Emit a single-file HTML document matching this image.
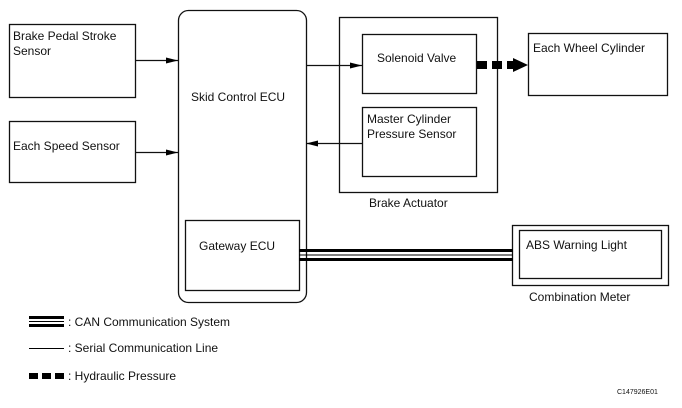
<!DOCTYPE html>
<html><head><style>
body{margin:0;background:#fff;}
svg text{font-family:"Liberation Sans",sans-serif;font-size:12px;fill:#111;}
</style></head><body>
<svg width="682" height="403" viewBox="0 0 682 403" xmlns="http://www.w3.org/2000/svg">
<defs><marker id="a" markerWidth="12" markerHeight="8" refX="12" refY="4" orient="auto" markerUnits="userSpaceOnUse"><path d="M0,1 L12,4 L0,7 Z" fill="#000"/></marker></defs>
<g fill="none" stroke="#111" stroke-width="1.3">
<rect x="9.5" y="24.5" width="126" height="73"/>
<rect x="9.5" y="121.5" width="126" height="61"/>
<rect x="178.5" y="10.5" width="128" height="292" rx="10"/>
<rect x="185.5" y="220.5" width="114" height="70"/>
<rect x="339.5" y="17.5" width="158" height="175"/>
<rect x="362.5" y="34.5" width="114" height="59"/>
<rect x="362.5" y="107.5" width="114" height="69"/>
<rect x="528.5" y="33.5" width="139" height="62"/>
<rect x="512.5" y="225.5" width="156" height="60"/>
<rect x="519.5" y="230.5" width="142" height="48"/>
<line x1="135" y1="60.5" x2="178" y2="60.5" marker-end="url(#a)"/>
<line x1="135" y1="152.5" x2="178" y2="152.5" marker-end="url(#a)"/>
<line x1="306" y1="65.5" x2="362" y2="65.5" marker-end="url(#a)"/>
<line x1="362" y1="143.5" x2="306" y2="143.5" marker-end="url(#a)"/>
</g>
<g fill="#000">
<rect x="477" y="61" width="10" height="8"/><rect x="492" y="61" width="10" height="8"/><rect x="507" y="61" width="8" height="8"/>
<path d="M513,58 L528,65 L513,72 Z"/>
<rect x="299" y="249" width="214" height="3"/>
<rect x="299" y="254.5" width="214" height="1"/>
<rect x="299" y="258" width="214" height="3"/>
<rect x="29" y="316" width="35" height="3"/><rect x="29" y="321" width="35" height="1"/><rect x="29" y="324" width="35" height="3"/>
<rect x="29" y="348" width="35" height="1"/>
<rect x="29" y="373" width="9" height="6"/><rect x="42" y="373" width="9" height="6"/><rect x="55" y="373" width="9" height="6"/>
</g>
<text x="13" y="40">Brake Pedal Stroke</text>
<text x="13" y="55">Sensor</text>
<text x="13" y="150">Each Speed Sensor</text>
<text x="191" y="101">Skid Control ECU</text>
<text x="199" y="250">Gateway ECU</text>
<text x="377" y="62">Solenoid Valve</text>
<text x="367" y="123">Master Cylinder</text>
<text x="367" y="138">Pressure Sensor</text>
<text x="369" y="207">Brake Actuator</text>
<text x="533" y="52">Each Wheel Cylinder</text>
<text x="526" y="249">ABS Warning Light</text>
<text x="529" y="301">Combination Meter</text>
<text x="68" y="326">: CAN Communication System</text>
<text x="68" y="352">: Serial Communication Line</text>
<text x="68" y="380">: Hydraulic Pressure</text>
<text x="617" y="394" style="font-size:7px">C147926E01</text>
</svg>
</body></html>
